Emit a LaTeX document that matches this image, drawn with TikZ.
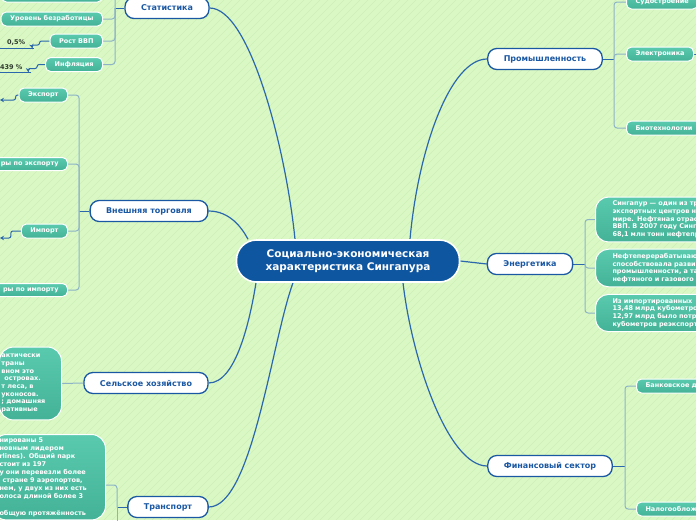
\documentclass[tikz,border=0pt]{standalone}
\usepackage{fontspec}
\setmainfont{DejaVu Sans}
\usetikzlibrary{arrows.meta,backgrounds}
\definecolor{meadow}{HTML}{D9F8C3}
\definecolor{stripe}{HTML}{CFEFB8}
\definecolor{core}{HTML}{0F56A0}
\definecolor{topic}{HTML}{1B58A3}
\definecolor{limb}{HTML}{2B67AD}
\definecolor{twig}{HTML}{8DB4C6}
\definecolor{tealhi}{HTML}{5ACAAF}
\definecolor{teallo}{HTML}{43B296}
\definecolor{valtext}{HTML}{2E3A2E}

\begin{document}
\begin{tikzpicture}[x=1pt,y=-1pt,
  hub/.style={draw=white,line width=1.6pt,fill=core,rounded corners=20pt,
    minimum width=223pt,minimum height=42pt,align=center,text=white,
    font=\fontsize{10.5}{13}\selectfont\bfseries},
  branch/.style={draw=topic,line width=1.3pt,fill=white,rounded corners=9pt,
    minimum height=21pt,inner xsep=16pt,text=topic,font=\fontsize{8}{10}\selectfont\bfseries},
  leaf/.style={draw=white,line width=1pt,top color=tealhi,bottom color=teallo,
    rounded corners=5pt,minimum height=14pt,inner xsep=9pt,inner ysep=0pt,text=white,
    font=\fontsize{6.5}{7.7}\selectfont\bfseries},
  note/.style={leaf,rounded corners=13pt,align=left,inner ysep=4pt},
  val/.style={text=valtext,font=\fontsize{6.5}{8}\selectfont\bfseries,inner xsep=1pt,inner ysep=2pt},
  uline/.style={draw=limb,line width=.8pt},
  limb/.style={draw=limb,line width=1.2pt},
  stub/.style={draw=limb,line width=1pt},
  twig/.style={draw=twig,line width=1pt,rounded corners=3pt},
  jump/.style={draw=limb,line width=1pt,rounded corners=2pt,-{Stealth[length=4pt,width=4.5pt]}}
]
\useasboundingbox (0,0) rectangle (696,520);
\begin{pgfonlayer}{background}
  \fill[meadow] (0,0) rectangle (696,520);
  \foreach \s in {-520,-512,...,696}
    \draw[stripe,line width=.6pt] (\s,520) -- ++(520,-520);
\end{pgfonlayer}

% centre and main topics
\node[hub] (soc) at (348,261) {Социально-экономическая\\характеристика Сингапура};
\node[branch] (stat) at (167,8) {Статистика};
\node[branch] (trade) at (149,211) {Внешняя торговля};
\node[branch] (agri) at (146,383) {Сельское хозяйство};
\node[branch] (trans) at (168,507) {Транспорт};
\node[branch] (ind) at (545,59) {Промышленность};
\node[branch] (energy) at (530,264) {Энергетика};
\node[branch] (fin) at (550,466) {Финансовый сектор};

% statistics
\node[leaf,minimum width=101pt] (statTop) at (52,-5) {};
\node[leaf,anchor=east] (jobless) at (103,19) {Уровень безработицы};
\node[leaf,anchor=east] (gdp) at (103,41) {Рост ВВП};
\node[leaf,anchor=east] (infl) at (103,64.5) {Инфляция};
\node[val,minimum width=36pt,anchor=south west] (gdpVal) at (-2,48) {0,5\%};
\node[val,text width=30pt,align=left,anchor=south west] (inflVal) at (-1,72) {439 \%};
\coordinate (statJ) at (115,8);

% foreign trade
\node[leaf,anchor=east] (exp) at (68,95) {Экспорт};
\node[leaf,anchor=east,minimum height=13pt] (expPart) at (68,164) {ры по экспорту};
\node[leaf,anchor=east] (imp) at (68,231) {Импорт};
\node[leaf,anchor=east,minimum height=13pt] (impPart) at (68,290) {ры по импорту};
\coordinate (tradeJ) at (79,211);
\coordinate (expEnd) at (0,100);
\coordinate (impEnd) at (0,238);

% agriculture and transport
\node[note,anchor=east,text width=58pt,inner xsep=2pt,inner ysep=7pt,rounded corners=14pt]
  (agriNote) at (62,383.5)
  {актически\\траны\\вном это\\\hspace*{3pt}островах.\\т леса, в\\уконосов.\\; домашняя\\ративные};
\node[note,anchor=north east,text width=99pt,inner xsep=7pt,inner ysep=3pt,rounded corners=14pt,
  font=\fontsize{6.5}{8.1}\selectfont\bfseries]
  (transNote) at (106,434)
  {нированы 5\\новным лидером\\rlines). Общий парк\\стоит из 197\\у они перевезли более\\
   \hspace*{3pt}стране 9 аэропортов,\\нем, у двух из них есть\\олоса длиной более 3\\[8.5pt]
   общую протяжённость\\[30pt]};
\coordinate (transJ) at (117,507);
\coordinate (transLink) at (106,485);

% industry
\node[leaf,anchor=west] (ship) at (626,2) {Судостроение};
\node[leaf,anchor=west] (elec) at (626,54) {Электроника};
\node[leaf,anchor=west] (bio) at (626,128) {Биотехнологии};
\coordinate (indJ) at (614,59);
\coordinate (elecOut) at (700,54);

% energy
\node[note,anchor=west,text width=120pt,inner xsep=17pt] (oilHub) at (595,219.5)
  {Сингапур — один из тр\\экспортных центров н\\мире. Нефтяная отрас\\ВВП. В 2007 году Синг\\68,1 млн тонн нефтепр};
\node[note,anchor=west,text width=120pt,inner xsep=17pt] (refine) at (595,268)
  {Нефтеперерабатываю\\способствовала разви\\промышленности, а та\\нефтяного и газового};
\node[note,anchor=west,text width=120pt,inner xsep=17pt] (gasNote) at (595,313)
  {Из импортированных\\13,48 млрд кубометро\\12,97 млрд было потр\\кубометров реэкспорт};
\coordinate (enJ) at (585,264);

% finance
\node[leaf,anchor=west] (bank) at (636,386) {Банковское д};
\node[leaf,anchor=west] (tax) at (636,509) {Налогооблож};
\coordinate (finJ) at (625,466);

\begin{pgfonlayer}{background}
  \draw[limb] (stat.east) .. controls (250,8) and (286,150) .. ([xshift=-53]soc.north);
  \draw[limb] (trade.east) .. controls (230,211) and (242,228) .. ([xshift=-100]soc.north);
  \draw[limb] (agri.east) .. controls (236,383) and (250,320) .. ([xshift=-92]soc.south);
  \draw[limb] (trans.east) .. controls (252,507) and (272,340) .. ([xshift=-55]soc.south);
  \draw[limb] (ind.west) .. controls (450,59) and (418,150) .. ([xshift=62]soc.north);
  \draw[limb] (soc.east) -- (energy.west);
  \draw[limb] (fin.west) .. controls (448,466) and (412,360) .. ([xshift=55]soc.south);

  \draw[stub] (stat.west) -- (statJ);
  \foreach \k in {statTop,jobless,gdp,infl} \draw[twig] (statJ) |- (\k.east);
  \draw[uline] (gdpVal.south west) -- (gdpVal.south east);
  \draw[uline] (inflVal.south west) -- (inflVal.south east);
  \draw[jump] (gdp.west) -- ++(-10,0) |- ++(-8,4) -- ([xshift=-2]gdpVal.south east);
  \draw[jump] (infl.west) -- ++(-8,0) |- ++(-9,4) -- ([xshift=-3]inflVal.south east);

  \draw[stub] (trade.west) -- (tradeJ);
  \foreach \k in {exp,expPart,imp,impPart} \draw[twig] (tradeJ) |- (\k.east);
  \draw[jump] (exp.west) -- ++(-3,0) |- (expEnd);
  \draw[jump] (imp.west) -- ++(-10,0) |- (impEnd);

  \draw[twig] (agri.west) -- (agriNote.east);
  \draw[stub] (trans.west) -- (transJ);
  \draw[twig] (transJ) |- (transLink);
  \draw[twig] (transJ) -- ++(0,20);

  \draw[stub] (ind.east) -- (indJ);
  \foreach \k in {ship,elec,bio} \draw[twig] (indJ) |- (\k.west);
  \draw[stub] (elec.east) -- (elecOut);

  \draw[stub] (energy.east) -- (enJ);
  \foreach \k in {oilHub,refine,gasNote} \draw[twig] (enJ) |- (\k.west);

  \draw[stub] (fin.east) -- (finJ);
  \foreach \k in {bank,tax} \draw[twig] (finJ) |- (\k.west);
\end{pgfonlayer}
\end{tikzpicture}
\end{document}
